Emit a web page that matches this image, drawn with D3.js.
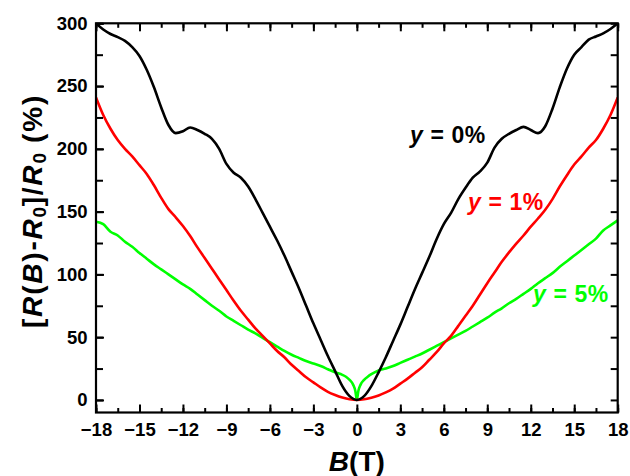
<!DOCTYPE html>
<html><head><meta charset="utf-8">
<script src="https://cdn.jsdelivr.net/npm/d3@7"></script>
<style>
html,body{margin:0;padding:0;background:#fff;}
text{font-family:Arial,"Liberation Sans",sans-serif;font-weight:bold;}
</style></head>
<body><svg id="c" width="630" height="476"></svg>
<script>
// ---- data ----
const fieldB = [-18,-17.5,-17,-16.5,-16,-15.5,-15,-14.5,-14,-13.5,-13,-12.5,-12,-11.5,-11,-10.5,-10,-9.5,-9,-8.5,-8,-7.5,-7,-6.5,-6,-5.5,-5,-4.5,-4,-3.5,-3,-2.5,-2,-1.5,-1,-0.5,0,
  0.5,1,1.5,2,2.5,3,3.5,4,4.5,5,5.5,6,6.5,7,7.5,8,8.5,9,9.5,10,10.5,11,11.5,12,12.5,13,13.5,14,14.5,15,15.5,16,16.5,17,17.5,18];
const mr0 = [300,295,291.5,289,286,281,274,263,249,233,219,212.5,214,217,215,212,208,200,188,181,177,170,160,149,138,127,115,102,89,75,61,48,35,23,11,3,0,
  3,11,22,34,47,60,74,88,101,114,128,140,149,160,169,177,182,189,201,208,212,215,217.5,215,212.5,218,232,249,264,275,281,287,289.5,292,295.5,300];
const mr1 = [241,227,216,207,200,194,187,180,171,161,152,145.5,138.5,130.5,121.5,113,104.5,96,87.5,79,71,64,57,51,45,39,34,28,23,18,14,10,6.5,4,2,0.6,0,
  0.5,1.8,3.5,6,9,13,17,21.5,26,32,38,45,51,59,67,75,84,93,101.5,110,117.5,124.5,131,138,144.5,151.5,160,170,179,187.5,194,201,207,216,227,241];
const fieldB5 = [-18,-17.5,-17,-16.5,-16,-15.5,-15,-14.5,-14,-13.5,-13,-12.5,-12,-11.5,-11,-10.5,-10,-9.5,-9,-8.5,-8,-7.5,-7,-6.5,-6,-5.5,-5,-4.5,-4,-3.5,-3,-2.5,-2,-1.5,-1,-0.75,-0.5,-0.25,-0.1,0,
  0.1,0.25,0.5,0.75,1,1.5,2,2.5,3,3.5,4,4.5,5,5.5,6,6.5,7,7.5,8,8.5,9,9.5,10,10.5,11,11.5,12,12.5,13,13.5,14,14.5,15,15.5,16,16.5,17,17.5,18];
const mr5 = [142,140,134,131,126,122,117,112.5,108,104,100,96,92,88.5,84,79.5,75,71,66.5,63,59.5,56,53,49.5,46,42.5,39,36,33.5,31,29,27,24.5,22,20,18.5,16,12,7,0,
  7,12,16,18.5,20.5,23.5,25,27,29.5,32,34.5,37,40,43,46,49,52,55,58.5,62,65.5,69.5,73,77,80.5,84.5,88.5,93,97,101,106,110.5,115,119.5,124,128.5,135,139,143];
const seriesNames = ["y = 0%","y = 1%","y = 5%"];
const seriesColors = ["#000000","#ff0000","#00ff00"];
const xTicks = [-18,-15,-12,-9,-6,-3,0,3,6,9,12,15,18];
const yTicks = [0,50,100,150,200,250,300];

// ---- layout ----
const L=96, R=617.7, T=23.3, Bt=412.5;
const x = d3.scaleLinear().domain([-18,18]).range([L,R]);
const y = d3.scaleLinear().domain([-10,300]).range([Bt,T]);
const svg = d3.select("#c");

const series = [
  {name:seriesNames[0], color:seriesColors[0], xs:fieldB, ys:mr0},
  {name:seriesNames[1], color:seriesColors[1], xs:fieldB, ys:mr1},
  {name:seriesNames[2], color:seriesColors[2], xs:fieldB5, ys:mr5}
];
const line = d3.line().x(d=>x(d[0])).y(d=>y(d[1])).curve(d3.curveMonotoneX);
svg.append("defs").append("clipPath").attr("id","clip").append("rect")
  .attr("x",L).attr("y",T).attr("width",R-L).attr("height",Bt-T);
const g = svg.append("g").attr("clip-path","url(#clip)");
[series[2],series[1],series[0]].forEach(s=>{
  g.append("path").datum(s.xs.map((b,i)=>[b,s.ys[i]]))
   .attr("d",line).attr("fill","none").attr("stroke",s.color)
   .attr("stroke-width",2.6).attr("stroke-linejoin","round");
});

// ---- axes ----
const xMinor = d3.range(-18,18.01,1.5);
const yMinor = d3.range(0,300.01,25);
function styleAxis(sel){ sel.select(".domain").remove(); sel.selectAll("line").attr("stroke","#000").attr("stroke-width",2); }
// bottom
svg.append("g").attr("transform",`translate(0,${Bt})`)
  .call(d3.axisBottom(x).tickValues(xMinor).tickSize(-4.5).tickFormat(""))
  .call(styleAxis);
const xb = svg.append("g").attr("transform",`translate(0,${Bt})`)
  .call(d3.axisBottom(x).tickValues(xTicks).tickSize(-8).tickPadding(10.5).tickFormat(d3.format("d")))
  .call(styleAxis);
xb.selectAll("text").attr("font-size",18.5).attr("fill","#000").attr("dy","0.71em");
// top
svg.append("g").attr("transform",`translate(0,${T})`)
  .call(d3.axisTop(x).tickValues(xMinor).tickSize(-4.5).tickFormat("")).call(styleAxis);
svg.append("g").attr("transform",`translate(0,${T})`)
  .call(d3.axisTop(x).tickValues(xTicks).tickSize(-8).tickFormat("")).call(styleAxis);
// left
svg.append("g").attr("transform",`translate(${L},0)`)
  .call(d3.axisLeft(y).tickValues(yMinor).tickSize(-7).tickFormat("")).call(styleAxis);
const yl = svg.append("g").attr("transform",`translate(${L},0)`)
  .call(d3.axisLeft(y).tickValues(yTicks).tickSize(-8).tickPadding(8.5).tickFormat(d3.format("d")))
  .call(styleAxis);
yl.selectAll("text").attr("font-size",18.5).attr("fill","#000");
// right
svg.append("g").attr("transform",`translate(${R},0)`)
  .call(d3.axisRight(y).tickValues(yMinor).tickSize(-7).tickFormat("")).call(styleAxis);

// frame
svg.append("rect").attr("x",L).attr("y",T).attr("width",R-L).attr("height",Bt-T)
  .attr("fill","none").attr("stroke","#000").attr("stroke-width",2.2);

// ---- titles ----
const xt = svg.append("text").attr("x",x(0)).attr("y",471).attr("text-anchor","middle")
  .attr("font-size",28).attr("fill","#000");
xt.append("tspan").attr("font-style","italic").text("B");
xt.append("tspan").text("(T)");

const yt = svg.append("text").attr("transform","translate(41.5,211) rotate(-90)")
  .attr("text-anchor","middle").attr("font-size",28).attr("fill","#000")
  .attr("letter-spacing","1.8px");
yt.append("tspan").text("[");
yt.append("tspan").attr("font-style","italic").text("R");
yt.append("tspan").text("(");
yt.append("tspan").attr("font-style","italic").text("B");
yt.append("tspan").text(")-");
yt.append("tspan").attr("font-style","italic").text("R");
yt.append("tspan").attr("font-size",19).attr("dy",4).attr("letter-spacing","0.5px").text("0");
yt.append("tspan").attr("dy",-4).text("]/");
yt.append("tspan").attr("font-style","italic").text("R");
yt.append("tspan").attr("font-size",19).attr("dy",4).attr("letter-spacing","0.5px").text("0");
yt.append("tspan").attr("dy",-4).text(" (%)");

// ---- annotations ----
const ann = [[410,143],[468,210],[533,301.5]];
series.forEach((s,i)=>{
  const t = svg.append("text").attr("x",ann[i][0]).attr("y",ann[i][1])
    .attr("font-size",23).attr("fill",s.color).attr("letter-spacing","0.6px");
  const parts = s.name.split(" ");
  t.append("tspan").attr("font-style","italic").text(parts[0]);
  t.append("tspan").text(" " + parts.slice(1).join(" "));
});
</script></body></html>
